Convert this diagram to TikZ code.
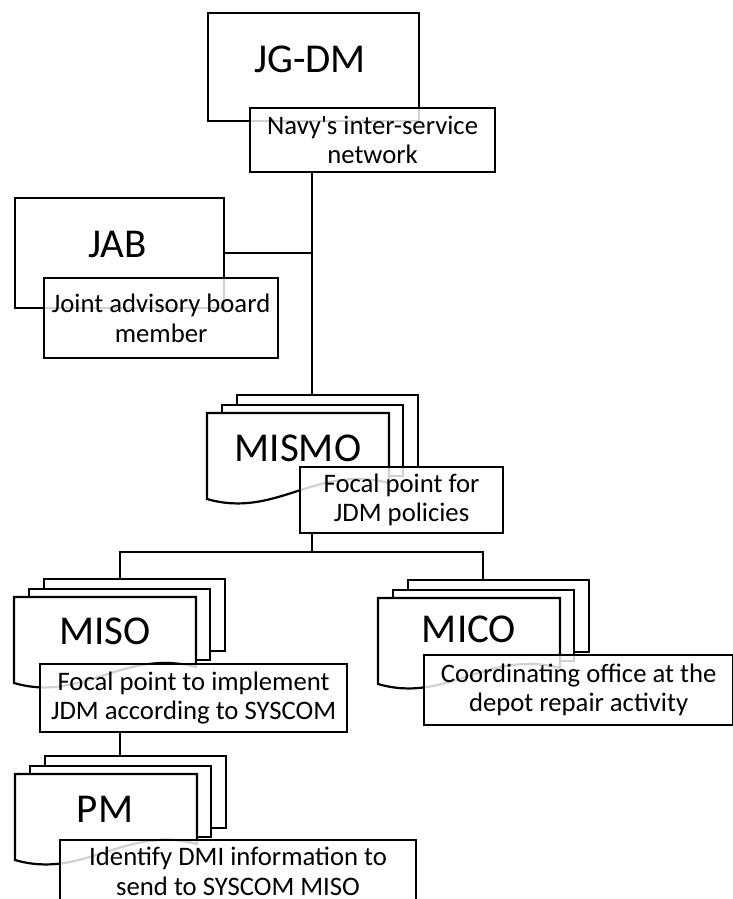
\documentclass[tikz,border=0pt]{standalone}
\usepackage{fontspec}
\setmainfont{Carlito}[Ligatures=TeXOff]
\newcommand\tagfont{\fontsize{26.7}{29.5}\selectfont}
\newcommand\headfont{\fontsize{41}{45}\selectfont}
\tikzset{
  frame/.style={draw=black, line width=2.2pt, fill=white},
  sheet/.style={frame, inner sep=0pt, anchor=north west},
  tag/.style={draw=black, line width=2.2pt, fill=white, fill opacity=0.82,
    text opacity=1, align=center, inner sep=0pt, anchor=north west, font=\tagfont},
  head/.style={anchor=base, inner sep=0pt, font=\headfont},
  link/.style={draw=black, line width=2.2pt}
}
% stacked documents: #1 name, (#2,#3) top-left corner of the rear sheet
\newcommand\stackdoc[3]{%
  \node[sheet, minimum width=181pt, minimum height=72pt] (#1) at (#2,#3) {};
  \node[sheet, minimum width=181pt, minimum height=71pt] (#1-mid) at (#2-15,#3+10) {};
  \draw[frame] (#2-29,#3+105) -- (#2-29,#3+19) -- (#2+153,#3+19) -- (#2+153,#3+89)
    .. controls (#2+80,#3+70) and (#2+40,#3+125) .. (#2-29,#3+105) -- cycle;
}
\begin{document}
\begin{tikzpicture}[x=1pt, y=-1pt]
\useasboundingbox (0,0) rectangle (733,899);
\clip (0,0) rectangle (733,899);

% reference columns and rows for the connectors
\coordinate (trunk) at (312,0);
\coordinate (misocol) at (120,0);
\coordinate (micocol) at (483,0);
\coordinate (bus) at (0,552);

% JG-DM
\node[sheet, minimum width=211pt, minimum height=108pt] (jgdm) at (207,12) {};
\node[head] (jgdm-t) at (310,73) {JG-DM};

% JAB
\node[sheet, minimum width=209pt, minimum height=110pt] (jab) at (14,197) {};
\node[head] (jab-t) at (117.5,257) {JAB};

% MISMO, MISO, MICO, PM
\stackdoc{mismo}{236}{394}
\node[head] (mismo-t) at (298,461) {MISMO};
\stackdoc{miso}{43}{578}
\node[head] (miso-t) at (105,644) {MISO};
\stackdoc{mico}{407}{579}
\node[head] (mico-t) at (469,642) {MICO};
\stackdoc{pm}{44}{755}
\node[head] (pm-t) at (105,822) {PM};

% description tags
\node[tag, minimum width=245pt, minimum height=64pt] (jgdm-tag) at (249,107)
  {Navy's inter-service\\network};
\node[tag, minimum width=234pt, minimum height=80pt] (jab-tag) at (43,277)
  {Joint advisory board\\member};
\node[tag, minimum width=203pt, minimum height=66pt] (mismo-tag) at (299,466)
  {Focal point for\\JDM policies};
\node[tag, minimum width=307pt, minimum height=68pt] (miso-tag) at (39,663)
  {Focal point to implement\\JDM according to SYSCOM};
\node[tag, minimum width=309pt, minimum height=70pt] (mico-tag) at (423,654)
  {Coordinating office at the\\depot repair activity};
\node[tag, minimum width=356pt, minimum height=62pt] (pm-tag) at (59,839)
  {Identify DMI information to\\send to SYSCOM MISO};

% connectors
\draw[link] (jgdm-tag.south -| trunk) -- (trunk |- mismo.north);
\draw[link] (jab.east) -- (jab.east -| trunk);
\draw[link] (mismo-tag.south -| trunk) -- (trunk |- bus);
\draw[link] (misocol |- miso.north) -- (misocol |- bus) -- (micocol |- bus) -- (micocol |- mico.north);
\draw[link] (miso-tag.south -| misocol) -- (misocol |- pm.north);
\end{tikzpicture}
\end{document}
